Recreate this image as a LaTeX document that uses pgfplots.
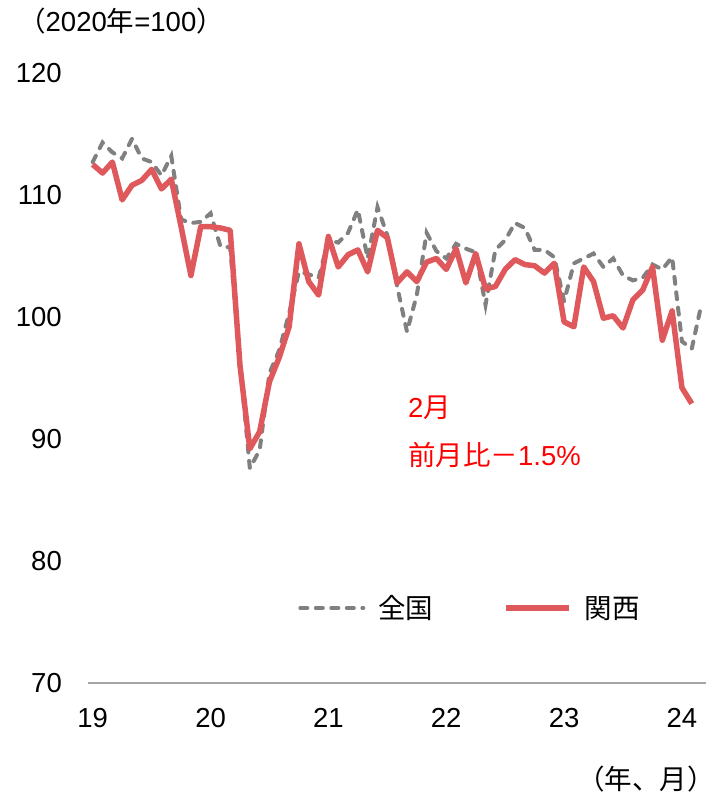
\documentclass[border=0pt]{standalone}
\usepackage{fontspec}
\setmainfont{Liberation Sans}
\newfontfamily\cjk{Noto Sans CJK JP}
\usepackage{pgfplots}
\pgfplotsset{compat=1.18}
\definecolor{kred}{RGB}{222,88,92}
\definecolor{kgray}{RGB}{128,128,128}
\definecolor{axgray}{RGB}{166,166,166}
\newcommand{\fs}{\fontsize{27.5}{32}\selectfont}
\begin{document}
\begin{tikzpicture}
\path[use as bounding box] (0,0) rectangle (716pt,798pt);
\begin{axis}[
  at={(88pt,115pt)}, anchor=south west,
  scale only axis, width=618pt, height=610pt,
  xmin=-0.48, xmax=62.45, ymin=70, ymax=120,
  axis x line*=bottom, axis y line*=left,
  y axis line style={draw=none},
  x axis line style={draw=axgray, line width=1.8pt, -},
  major tick length=0pt, tick style={draw=none},
  xtick={0,12,...,60}, xticklabels={19,20,21,22,23,24},
  ytick={70,80,...,120},
  ticklabel style={font=\fs, inner sep=0pt},
  yticklabel style={anchor=east, xshift=-26pt},
  xticklabel style={anchor=north, yshift=-25pt},
  /pgf/number format/assume math mode=true,
  clip=false,
  legend columns=2,
  legend style={at={(0.34,0.123)}, anchor=west, draw=none, fill=none,
    inner sep=0pt, font=\fs, column sep=13pt,
    /tikz/every even column/.append style={column sep=70pt},
    nodes={inner sep=0pt}},
  legend image code/.code={\draw[#1] (0pt,0pt) -- (63pt,0pt);},
]
\addplot[kgray, line width=4pt, line cap=round, dash pattern=on 7pt off 8.5pt] coordinates {
(0,112.7)(1,114.3)(2,113.5)(3,113.0)(4,114.6)(5,113.0)(6,112.7)(7,111.6)(8,113.2)(9,108.0)
(10,107.7)(11,107.8)(12,108.5)(13,105.8)(14,105.7)(15,96.3)(16,87.6)(17,89.1)(18,95.4)(19,97.3)
(20,100.3)(21,103.7)(22,103.5)(23,103.2)(24,106.3)(25,106.1)(26,106.9)(27,108.8)(28,104.8)(29,109.0)
(30,106.7)(31,102.5)(32,98.8)(33,101.8)(34,106.9)(35,105.4)(36,104.8)(37,106.0)(38,105.6)(39,105.3)
(40,101.0)(41,105.5)(42,106.3)(43,107.7)(44,107.3)(45,105.5)(46,105.5)(47,104.9)(48,101.3)(49,104.4)
(50,104.8)(51,105.2)(52,104.1)(53,104.8)(54,103.4)(55,103.0)(56,103.2)(57,104.3)(58,103.9)(59,104.9)
(60,98.0)(61,97.4)(62,101.1)
};
\addlegendentry{\cjk 全国}
\addplot[kred, line width=5.5pt, line join=round] coordinates {
(0,112.5)(1,111.8)(2,112.7)(3,109.6)(4,110.8)(5,111.2)(6,112.1)(7,110.5)(8,111.3)(9,107.4)
(10,103.4)(11,107.4)(12,107.4)(13,107.3)(14,107.1)(15,96.0)(16,89.2)(17,90.6)(18,94.7)(19,96.7)
(20,99.2)(21,106.0)(22,102.9)(23,101.8)(24,106.6)(25,104.1)(26,105.1)(27,105.5)(28,103.7)(29,107.1)
(30,106.5)(31,102.8)(32,103.7)(33,102.9)(34,104.5)(35,104.8)(36,103.9)(37,105.6)(38,102.8)(39,105.2)
(40,102.3)(41,102.5)(42,103.9)(43,104.7)(44,104.3)(45,104.2)(46,103.6)(47,104.4)(48,99.6)(49,99.2)
(50,104.1)(51,102.9)(52,99.9)(53,100.1)(54,99.1)(55,101.4)(56,102.2)(57,104.1)(58,98.1)(59,100.5)
(60,94.2)(61,92.9)
};
\addlegendentry{\cjk 関西}
\node[anchor=west, inner sep=0pt, text=red, font=\fs] at (axis cs:32.1,92.55) {2{\cjk 月}};
\node[anchor=west, inner sep=0pt, text=red, font=\fs] at (axis cs:32.1,88.7) {{\cjk 前月比－}1.5\%};
\end{axis}
\node[anchor=base west, inner sep=0pt, font=\fs] at (18pt,766pt) {{\cjk （}2020{\cjk 年}={100}{\cjk ）}};
\node[anchor=base east, inner sep=0pt, font=\fs] at (715pt,9pt) {\cjk （年、月）};
\end{tikzpicture}
\end{document}
